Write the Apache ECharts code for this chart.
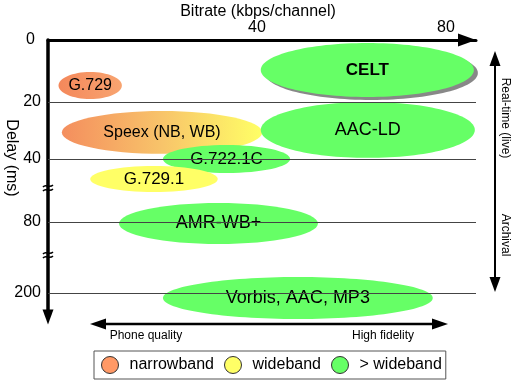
<!DOCTYPE html>
<html><head><meta charset="utf-8">
<script src="https://cdn.jsdelivr.net/npm/echarts@6/dist/echarts.min.js"></script>
<style>html,body{margin:0;padding:0;background:#fff}#c{width:516px;height:386px}</style>
</head><body><div id="c"></div>
<script>
// ---------------- data ----------------
const codecs      = ['G.729', 'Speex (NB, WB)', 'G.722.1C', 'AMR-WB+', 'Vorbis, AAC, MP3', 'AAC-LD', 'CELT', 'G.729.1'];
const bandClass   = ['narrowband', 'nb-wb', '> wideband', '> wideband', '> wideband', '> wideband', '> wideband', 'wideband'];
const bitrateLow  = [-2.0, -1.3, 20.1, 10.8, 20.1, 40.8, 40.8, 4.7];   // kbps/channel
const bitrateHigh = [11.4, 41.1, 47.0, 52.9, 77.2, 86.1, 85.9, 31.7];
const delayLow    = [10.3, 23.2, 35.1, 67.9, 173, 20.0, 1.0, 44.4];    // ms
const delayHigh   = [19.0, 38.2, 48.9, 117.2, 244, 39.6, 18.4, 61.0];
const xTickLabels = [40, 80];
const yTickLabels = [0, 20, 40, 80, 200];
const legendNames = ['narrowband', 'wideband', '> wideband'];

// ---------------- broken delay scale (axis definition) ----------------
const scaleStops = [0, 62, 119, 182, 253];   // axis units for yTickLabels
function delayPos(d) {
  const t = yTickLabels, s = scaleStops;
  for (let i = 1; i < t.length; i++) {
    if (d <= t[i] || i === t.length - 1) {
      return s[i-1] + (d - t[i-1]) / (t[i] - t[i-1]) * (s[i] - s[i-1]);
    }
  }
}
function posDelay(p) {
  const t = yTickLabels, s = scaleStops;
  for (let i = 0; i < s.length; i++) if (Math.abs(s[i] - p) < 0.01) return t[i];
  return '';
}

// ---------------- styles ----------------
const FONT = "'Liberation Sans', Arial, sans-serif";
const GREEN = '#66FF66', YELLOW = '#FFFF66', ORANGE = '#FF9966';
const fills = {
  'narrowband': {type:'linear', x:0, y:0, x2:1, y2:0, colorStops:[{offset:0,color:'#F4885B'},{offset:1,color:'#F8A470'}]},
  'nb-wb': {type:'linear', x:0, y:0, x2:1, y2:0, colorStops:[{offset:0,color:'#F48E5E'},{offset:0.5,color:'#F8C46A'},{offset:1,color:'#FFFF66'}]},
  'wideband': YELLOW,
  '> wideband': GREEN
};
const legendColors = {'narrowband': ORANGE, 'nb-wb': ORANGE, 'wideband': YELLOW, '> wideband': GREEN};
const fontSizes = {'G.729':16, 'Speex (NB, WB)':16, 'G.722.1C':17, 'G.729.1':17, 'AMR-WB+':18, 'Vorbis, AAC, MP3':18, 'AAC-LD':18, 'CELT':17};
const boldNames = {'CELT': true};
const shadowNames = {'CELT': true};

const classOrder = ['narrowband', 'nb-wb', '> wideband', 'wideband'];

function renderItem(params, api) {
  const p1 = api.coord([api.value(0), api.value(2)]);
  const p2 = api.coord([api.value(1), api.value(3)]);
  const cx = (p1[0] + p2[0]) / 2, cy = (p1[1] + p2[1]) / 2;
  const rx = Math.abs(p2[0] - p1[0]) / 2, ry = Math.abs(p2[1] - p1[1]) / 2;
  const name = codecs[api.value(4)];
  const cls = bandClass[api.value(4)];
  const style = {fill: fills[cls]};
  if (shadowNames[name]) {
    style.shadowColor = '#888888'; style.shadowOffsetX = 4; style.shadowOffsetY = 3; style.shadowBlur = 0.1;
  }
  return {
    type: 'group',
    children: [
      {type: 'ellipse', shape: {cx: cx, cy: cy, rx: rx, ry: ry}, style: style},
      {type: 'text', x: cx, y: cy, style: {
        text: name, fill: '#000', align: 'center', verticalAlign: 'middle',
        font: (boldNames[name] ? 'bold ' : '') + fontSizes[name] + 'px ' + FONT
      }}
    ]
  };
}

const series = [{
  type: 'line', data: [], z: 1, silent: true,
  markLine: {
    silent: true, symbol: 'none', label: {show: false},
    lineStyle: {color: '#444', width: 1, type: 'solid'},
    data: yTickLabels.slice(1).map(d => ({yAxis: -delayPos(d)}))
  }
}];
classOrder.forEach(cls => {
  const items = [];
  codecs.forEach((c, i) => {
    if (bandClass[i] === cls) items.push({name: c, value: [bitrateLow[i], bitrateHigh[i], -delayPos(delayLow[i]), -delayPos(delayHigh[i]), i]});
  });
  series.push({
    name: cls, type: 'custom', z: 2, renderItem: renderItem,
    encode: {x: [0, 1], y: [2, 3]},
    itemStyle: {color: legendColors[cls]},
    data: items
  });
});

const chart = echarts.init(document.getElementById('c'), null, {renderer: 'canvas'});
chart.setOption({
  animation: false,
  backgroundColor: '#fff',
  textStyle: {fontFamily: FONT},
  grid: {left: 48, right: 40, top: 40, bottom: 69, containLabel: false},
  xAxis: {
    type: 'value', position: 'top', min: -4.23, max: 86.35,
    axisLine: {show: true, onZero: false, lineStyle: {color: '#000', width: 3}, symbol: ['none', 'triangle'], symbolSize: [13, 18], symbolOffset: [0, -9]},
    axisTick: {show: false},
    splitLine: {show: false},
    axisLabel: {customValues: xTickLabels, color: '#000', fontSize: 16, fontFamily: FONT, margin: 4}
  },
  yAxis: {
    type: 'value', min: -277, max: 0,
    axisLine: {show: true, onZero: false, lineStyle: {color: '#000', width: 3.5}, symbol: ['triangle', 'none'], symbolSize: [11, 15]},
    axisTick: {show: false},
    splitLine: {show: false},
    axisLabel: {customValues: scaleStops.map(v => -v), color: '#000', fontSize: 16, fontFamily: FONT, margin: 7,
      formatter: v => { const d = posDelay(-v); return d === 0 ? '{z|0}' : String(d); },
      rich: {z: {fontSize: 16, fontFamily: FONT, color: '#000', padding: [0, 6, 0, 0]}}}
  },
  legend: {
    data: legendNames, left: 94, top: 351, orient: 'horizontal', icon: 'circle',
    itemWidth: 17, itemHeight: 17, itemGap: 10,
    padding: [5, 4, 5, 7],
    borderColor: '#555', borderWidth: 1,
    itemStyle: {borderColor: '#333', borderWidth: 1},
    textStyle: {fontSize: 16, color: '#000', fontFamily: FONT, padding: [0, 0, 0, 6]}
  },
  graphic: [
    {type: 'text', x: 258, y: 12, style: {text: 'Bitrate (kbps/channel)', font: '16px ' + FONT, fill: '#000', align: 'center', verticalAlign: 'middle'}},
    {type: 'text', x: 11, y: 158, rotation: -Math.PI / 2, style: {text: 'Delay (ms)', font: '16px ' + FONT, fill: '#000', align: 'center', verticalAlign: 'middle'}},
    // right real-time / archival arrow
    {type: 'line', shape: {x1: 495, y1: 62, x2: 495, y2: 282}, style: {stroke: '#000', lineWidth: 2}},
    {type: 'polygon', shape: {points: [[495, 51], [489.5, 66], [500.5, 66]]}, style: {fill: '#000'}},
    {type: 'polygon', shape: {points: [[495, 292], [489.5, 277], [500.5, 277]]}, style: {fill: '#000'}},
    {type: 'text', x: 505, y: 118, rotation: -Math.PI / 2, style: {text: 'Real-time (live)', font: '12px ' + FONT, fill: '#000', align: 'center', verticalAlign: 'middle'}},
    {type: 'text', x: 505, y: 235, rotation: -Math.PI / 2, style: {text: 'Archival', font: '12px ' + FONT, fill: '#000', align: 'center', verticalAlign: 'middle'}},
    // bottom quality arrow
    {type: 'line', shape: {x1: 100, y1: 324, x2: 438, y2: 324}, style: {stroke: '#000', lineWidth: 2.5}},
    {type: 'polygon', shape: {points: [[90, 324], [106, 318.5], [106, 329.5]]}, style: {fill: '#000'}},
    {type: 'polygon', shape: {points: [[448, 324], [432, 318.5], [432, 329.5]]}, style: {fill: '#000'}},
    {type: 'text', x: 146, y: 336, style: {text: 'Phone quality', font: '12px ' + FONT, fill: '#000', align: 'center', verticalAlign: 'middle'}},
    {type: 'text', x: 383, y: 336, style: {text: 'High fidelity', font: '12px ' + FONT, fill: '#000', align: 'center', verticalAlign: 'middle'}},
    // axis break marks
    {type: 'bezierCurve', z: 100, shape: {x1: 43, y1: 187, cpx1: 46, cpy1: 183, cpx2: 49, cpy2: 189, x2: 53, y2: 185}, style: {stroke: '#000', lineWidth: 1.5, fill: null}},
    {type: 'bezierCurve', z: 100, shape: {x1: 43, y1: 191, cpx1: 46, cpy1: 187, cpx2: 49, cpy2: 193, x2: 53, y2: 189}, style: {stroke: '#000', lineWidth: 1.5, fill: null}},
    {type: 'bezierCurve', z: 100, shape: {x1: 43, y1: 254, cpx1: 46, cpy1: 250, cpx2: 49, cpy2: 256, x2: 53, y2: 252}, style: {stroke: '#000', lineWidth: 1.5, fill: null}},
    {type: 'bezierCurve', z: 100, shape: {x1: 43, y1: 258, cpx1: 46, cpy1: 254, cpx2: 49, cpy2: 260, x2: 53, y2: 256}, style: {stroke: '#000', lineWidth: 1.5, fill: null}}
  ],
  series: series
});
</script>
</body></html>
